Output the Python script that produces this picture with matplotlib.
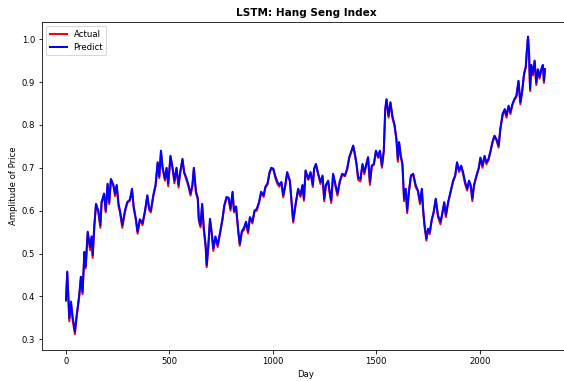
import matplotlib
matplotlib.use("Agg")
import matplotlib.pyplot as plt

# values (day, normalised price)
days = [0, 6, 16, 24, 32, 43, 51, 64, 72, 80, 89, 95, 105, 116, 124, 129, 137, 145,
        156, 166, 172, 184, 192, 201, 209, 217, 229, 237, 245, 254, 261, 272, 285,
        296, 309, 319, 327, 338, 346, 357, 370, 382, 393, 402, 410, 422, 433, 443,
        451, 459, 467, 478, 486, 494, 505, 515, 524, 534, 544, 552, 563, 571, 582,
        592, 602, 611, 618, 628, 637, 642, 650, 658, 666, 675, 680, 688, 696, 704,
        712, 722, 733, 745, 756, 765, 776, 786, 795, 805, 812, 822, 833, 840, 850,
        860, 870, 880, 889, 901, 911, 922, 933, 943, 955, 964, 974, 984, 992, 1002,
        1012, 1022, 1031, 1041, 1050, 1060, 1069, 1082, 1098, 1111, 1122, 1133,
        1143, 1150, 1158, 1171, 1182, 1193, 1199, 1208, 1219, 1230, 1240, 1248,
        1256, 1267, 1275, 1282, 1291, 1303, 1312, 1324, 1335, 1348, 1359, 1369,
        1377, 1388, 1396, 1404, 1412, 1423, 1433, 1442, 1452, 1460, 1469, 1478,
        1488, 1498, 1509, 1517, 1527, 1536, 1543, 1549, 1559, 1568, 1578, 1588,
        1597, 1604, 1610, 1618, 1626, 1634, 1642, 1649, 1657, 1667, 1678, 1690,
        1701, 1711, 1720, 1726, 1733, 1742, 1750, 1758, 1768, 1777, 1787, 1798,
        1810, 1820, 1828, 1836, 1847, 1858, 1871, 1881, 1890, 1900, 1910, 1919,
        1929, 1939, 1948, 1956, 1964, 1972, 1984, 1995, 2003, 2013, 2023, 2032,
        2042, 2052, 2061, 2071, 2080, 2091, 2099, 2110, 2121, 2129, 2139, 2148,
        2158, 2167, 2177, 2187, 2196, 2204, 2214, 2222, 2228, 2233, 2238, 2243,
        2249, 2257, 2265, 2273, 2281, 2289, 2297, 2305, 2310, 2315]

actual = [0.390, 0.455, 0.342, 0.385, 0.345, 0.312, 0.350, 0.400, 0.444, 0.405,
          0.500, 0.465, 0.548, 0.508, 0.538, 0.490, 0.563, 0.614, 0.597, 0.560,
          0.618, 0.638, 0.596, 0.661, 0.615, 0.672, 0.658, 0.634, 0.658, 0.610,
          0.596, 0.560, 0.597, 0.618, 0.623, 0.649, 0.606, 0.577, 0.546, 0.578,
          0.566, 0.598, 0.634, 0.601, 0.596, 0.634, 0.658, 0.711, 0.676, 0.738,
          0.698, 0.670, 0.698, 0.657, 0.726, 0.698, 0.664, 0.698, 0.654, 0.688,
          0.719, 0.688, 0.672, 0.656, 0.635, 0.658, 0.698, 0.641, 0.626, 0.576,
          0.561, 0.614, 0.555, 0.514, 0.468, 0.516, 0.579, 0.547, 0.506, 0.538,
          0.515, 0.548, 0.578, 0.610, 0.630, 0.627, 0.600, 0.642, 0.596, 0.608,
          0.547, 0.518, 0.550, 0.555, 0.572, 0.547, 0.583, 0.570, 0.598, 0.600,
          0.618, 0.642, 0.632, 0.654, 0.661, 0.688, 0.698, 0.696, 0.676, 0.662,
          0.656, 0.665, 0.631, 0.658, 0.688, 0.668, 0.572, 0.617, 0.649, 0.632,
          0.658, 0.623, 0.692, 0.672, 0.688, 0.655, 0.696, 0.707, 0.684, 0.662,
          0.680, 0.622, 0.658, 0.668, 0.638, 0.618, 0.684, 0.655, 0.635, 0.668,
          0.684, 0.680, 0.696, 0.723, 0.734, 0.750, 0.731, 0.708, 0.672, 0.668,
          0.707, 0.685, 0.708, 0.723, 0.660, 0.703, 0.707, 0.738, 0.723, 0.738,
          0.700, 0.738, 0.835, 0.858, 0.817, 0.851, 0.815, 0.798, 0.765, 0.714,
          0.758, 0.726, 0.706, 0.622, 0.649, 0.594, 0.641, 0.680, 0.684, 0.655,
          0.645, 0.615, 0.649, 0.600, 0.562, 0.530, 0.556, 0.545, 0.578, 0.595,
          0.626, 0.585, 0.568, 0.595, 0.618, 0.585, 0.618, 0.641, 0.668, 0.680,
          0.711, 0.690, 0.703, 0.686, 0.662, 0.647, 0.668, 0.656, 0.622, 0.658,
          0.680, 0.698, 0.722, 0.700, 0.726, 0.708, 0.718, 0.738, 0.758, 0.773,
          0.765, 0.747, 0.788, 0.820, 0.835, 0.817, 0.843, 0.825, 0.847, 0.858,
          0.866, 0.901, 0.848, 0.874, 0.918, 0.933, 0.975, 1.004, 0.968, 0.879,
          0.938, 0.915, 0.948, 0.893, 0.928, 0.908, 0.928, 0.938, 0.898, 0.928]

predict = [0.392, 0.458, 0.349, 0.388, 0.352, 0.318, 0.354, 0.403, 0.446, 0.410,
           0.504, 0.470, 0.551, 0.515, 0.540, 0.496, 0.566, 0.616, 0.600, 0.566,
           0.620, 0.640, 0.600, 0.663, 0.620, 0.674, 0.660, 0.640, 0.660, 0.616,
           0.600, 0.566, 0.600, 0.620, 0.626, 0.651, 0.610, 0.580, 0.551, 0.580,
           0.571, 0.600, 0.636, 0.605, 0.600, 0.636, 0.660, 0.713, 0.680, 0.740,
           0.700, 0.675, 0.700, 0.663, 0.728, 0.700, 0.670, 0.700, 0.660, 0.690,
           0.721, 0.690, 0.676, 0.660, 0.640, 0.660, 0.700, 0.645, 0.630, 0.581,
           0.566, 0.616, 0.560, 0.519, 0.473, 0.519, 0.581, 0.550, 0.512, 0.540,
           0.520, 0.550, 0.580, 0.612, 0.632, 0.630, 0.605, 0.644, 0.600, 0.610,
           0.552, 0.523, 0.552, 0.560, 0.574, 0.552, 0.585, 0.574, 0.600, 0.604,
           0.620, 0.644, 0.636, 0.656, 0.663, 0.690, 0.700, 0.698, 0.680, 0.667,
           0.660, 0.667, 0.636, 0.660, 0.690, 0.670, 0.577, 0.620, 0.651, 0.636,
           0.660, 0.628, 0.694, 0.674, 0.690, 0.660, 0.698, 0.709, 0.686, 0.667,
           0.682, 0.628, 0.660, 0.670, 0.643, 0.624, 0.686, 0.660, 0.640, 0.670,
           0.686, 0.682, 0.698, 0.725, 0.736, 0.752, 0.733, 0.710, 0.678, 0.674,
           0.709, 0.690, 0.710, 0.725, 0.667, 0.705, 0.709, 0.740, 0.725, 0.740,
           0.705, 0.740, 0.837, 0.860, 0.822, 0.853, 0.820, 0.800, 0.767, 0.720,
           0.760, 0.728, 0.710, 0.628, 0.651, 0.600, 0.643, 0.682, 0.686, 0.660,
           0.647, 0.620, 0.651, 0.605, 0.566, 0.535, 0.558, 0.550, 0.580, 0.597,
           0.628, 0.589, 0.574, 0.597, 0.620, 0.590, 0.620, 0.643, 0.670, 0.682,
           0.713, 0.694, 0.705, 0.690, 0.667, 0.651, 0.670, 0.660, 0.628, 0.660,
           0.682, 0.700, 0.724, 0.705, 0.728, 0.713, 0.720, 0.740, 0.760, 0.775,
           0.767, 0.752, 0.790, 0.826, 0.837, 0.822, 0.845, 0.830, 0.849, 0.860,
           0.868, 0.903, 0.853, 0.876, 0.920, 0.935, 0.977, 1.006, 0.970, 0.884,
           0.940, 0.920, 0.950, 0.898, 0.930, 0.912, 0.930, 0.940, 0.903, 0.930]

plt.rcParams['font.family'] = 'DejaVu Sans'
plt.rcParams['font.size'] = 8.5

fig = plt.figure(figsize=(564 / 72, 381 / 72), dpi=72)
ax = fig.add_axes([42 / 564, 31 / 381, 528 / 564, 328 / 381])

ax.plot(days, actual, color='red', linewidth=2.0, label='Actual')
ax.plot(days, predict, color='blue', linewidth=2.0, label='Predict')

ax.set_xlim(-116, 2436)
ax.set_ylim(0.275, 1.04)
ax.set_xticks([0, 500, 1000, 1500, 2000])
ax.set_yticks([0.3, 0.4, 0.5, 0.6, 0.7, 0.8, 0.9, 1.0])
ax.set_title('LSTM: Hang Seng Index', fontweight='bold', fontsize=10.5)
ax.set_xlabel('Day')
ax.set_ylabel('Amplitude of Price')
ax.legend(loc='upper left')

fig.savefig('out.png', dpi=72)
